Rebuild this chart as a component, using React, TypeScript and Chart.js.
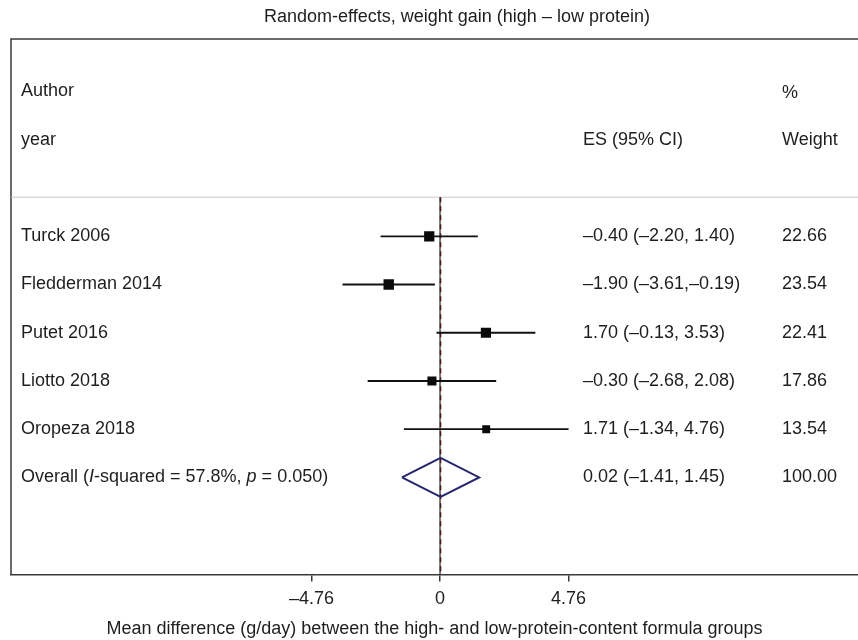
import React, { useEffect, useRef } from 'react';
import { Chart, registerables } from 'chart.js';

Chart.register(...registerables);

// ---- data ----
const studies = ['Turck 2006', 'Fledderman 2014', 'Putet 2016', 'Liotto 2018', 'Oropeza 2018'];
const effects = [-0.40, -1.90, 1.70, -0.30, 1.71];
const lowerCI = [-2.20, -3.61, -0.13, -2.68, -1.34];
const upperCI = [1.40, -0.19, 3.53, 2.08, 4.76];
const weights = [22.66, 23.54, 22.41, 17.86, 13.54];
const overallES = 0.02;
const overallLo = -1.41;
const overallHi = 1.45;
const overallWeight = 100.0;
const iSquared = 57.8;
const pValue = 0.050;
const tickValues = [-4.76, 0, 4.76];
const tickLabels = ['\u20134.76', '0', '4.76'];
const titleText = 'Random-effects, weight gain (high \u2013 low protein)';
const axisTitle = 'Mean difference (g/day) between the high- and low-protein-content formula groups';

// ---- layout constants ----
const FONT = '"Liberation Sans", Arial, Helvetica, sans-serif';
const FS = 18;
const Y_MIN = -3.09;
const Y_MAX = 8.01;
const SEP_ROW = 0.19;
const X_MIN = -15.89;
const X_MAX = 15.48;
const TEXT_COLOR = '#1e1e1e';

const fmt = (v: number) => (v < 0 ? '\u2013' : '') + Math.abs(v).toFixed(2);
const ciText = (es: number, lo: number, hi: number) =>
  `${fmt(es)} (${fmt(lo)},${hi < 0 ? '' : ' '}${fmt(hi)})`;

const textPlugin = {
  id: 'forestText',
  beforeDatasetsDraw(chart: any) {
    const { ctx, chartArea, scales } = chart;
    const ys = scales.y;
    const W = chart.width;
    ctx.save();
    // frame
    ctx.strokeStyle = '#3a3a3a';
    ctx.lineWidth = 1.5;
    ctx.beginPath();
    ctx.moveTo(chartArea.left, chartArea.bottom);
    ctx.lineTo(chartArea.left, chartArea.top);
    ctx.lineTo(W, chartArea.top);
    ctx.stroke();
    // separator
    const sy = ys.getPixelForValue(SEP_ROW);
    ctx.strokeStyle = '#c8c8c8';
    ctx.lineWidth = 1;
    ctx.beginPath();
    ctx.moveTo(chartArea.left, sy);
    ctx.lineTo(W, sy);
    ctx.stroke();
    ctx.restore();
  },
  afterDraw(chart: any) {
    const { ctx, chartArea, scales } = chart;
    const ys = scales.y;
    const authorX = chartArea.left + 10;
    const esX = 583;
    const wX = 782;
    ctx.save();
    ctx.fillStyle = TEXT_COLOR;
    ctx.textBaseline = 'middle';
    ctx.textAlign = 'left';
    ctx.font = `${FS}px ${FONT}`;
    // title
    ctx.textAlign = 'center';
    ctx.fillText(titleText, 457, 17);
    ctx.textAlign = 'left';
    // headers
    const h1 = ys.getPixelForValue(-2.02);
    const h2 = ys.getPixelForValue(-0.99);
    ctx.fillText('Author', authorX, h1);
    ctx.fillText('year', authorX, h2);
    ctx.fillText('ES (95% CI)', esX, h2);
    ctx.fillText('%', wX, h1 + 2);
    ctx.fillText('Weight', wX, h2);
    // rows
    studies.forEach((s, i) => {
      const y = ys.getPixelForValue(i + 1);
      ctx.fillText(s, authorX, y);
      ctx.fillText(ciText(effects[i], lowerCI[i], upperCI[i]), esX, y);
      ctx.fillText(weights[i].toFixed(2), wX, y);
    });
    // overall row
    const oy = ys.getPixelForValue(studies.length + 1);
    const segs: [string, boolean][] = [
      ['Overall (', false],
      ['I', true],
      [`-squared = ${iSquared.toFixed(1)}%, `, false],
      ['p', true],
      [` = ${pValue.toFixed(3)})`, false],
    ];
    let x = authorX;
    segs.forEach(([t, it]) => {
      ctx.font = `${it ? 'italic ' : ''}${FS}px ${FONT}`;
      ctx.fillText(t, x, oy);
      x += ctx.measureText(t).width;
    });
    ctx.font = `${FS}px ${FONT}`;
    ctx.fillText(ciText(overallES, overallLo, overallHi), esX, oy);
    ctx.fillText(overallWeight.toFixed(2), wX, oy);
    ctx.restore();
  },
};

export default function App() {
  const ref = useRef<HTMLCanvasElement>(null);
  useEffect(() => {
    document.body.style.margin = '0';
    const canvas = ref.current!;
    const overallRow = studies.length + 1;
    const diamondHalf = 0.405;
    const datasets: any[] = [
      {
        label: 'overall line',
        data: [{ x: overallES, y: SEP_ROW }, { x: overallES, y: Y_MAX }],
        showLine: true,
        borderColor: '#8a2f2f',
        borderWidth: 1.6,
        borderDash: [5, 4],
        pointRadius: 0,
        order: 6,
      },
      {
        label: 'null',
        data: [{ x: 0, y: SEP_ROW }, { x: 0, y: Y_MAX }],
        showLine: true,
        borderColor: '#111111',
        borderWidth: 1.1,
        pointRadius: 0,
        order: 5,
      },
      ...studies.map((s, i) => ({
        label: s + ' CI',
        data: [{ x: lowerCI[i], y: i + 1 }, { x: upperCI[i], y: i + 1 }],
        showLine: true,
        borderColor: '#111111',
        borderWidth: 1.8,
        pointRadius: 0,
        order: 3,
      })),
      {
        label: 'estimates',
        data: effects.map((e, i) => ({ x: e, y: i + 1 })),
        pointStyle: 'rect',
        pointRadius: weights.map((w) => (2.15 * Math.sqrt(w)) / (2 * Math.SQRT1_2)),
        backgroundColor: '#0a0a0a',
        borderColor: '#0a0a0a',
        borderWidth: 0,
        order: 1,
      },
      {
        label: 'overall',
        data: [
          { x: overallLo, y: overallRow },
          { x: overallES, y: overallRow - diamondHalf },
          { x: overallHi, y: overallRow },
          { x: overallES, y: overallRow + diamondHalf },
          { x: overallLo, y: overallRow },
        ],
        showLine: true,
        borderColor: '#26266e',
        borderWidth: 2,
        pointRadius: 0,
        fill: false,
        order: 2,
      },
    ];
    const chart = new Chart(canvas, {
      type: 'scatter',
      data: { datasets },
      options: {
        animation: false,
        responsive: false,
        devicePixelRatio: 1,
        layout: { autoPadding: false, padding: { left: 11, top: 39, right: 0, bottom: 0 } },
        plugins: { legend: { display: false }, tooltip: { enabled: false }, title: { display: false } },
        scales: {
          x: {
            type: 'linear',
            min: X_MIN,
            max: X_MAX,
            afterBuildTicks: (scale: any) => {
              scale.ticks = tickValues.map((v) => ({ value: v }));
            },
            afterFit: (scale: any) => {
              scale.paddingLeft = 0;
              scale.paddingRight = 0;
            },
            grid: {
              display: true,
              drawOnChartArea: false,
              drawTicks: true,
              tickLength: 7,
              color: '#3a3a3a',
              lineWidth: 1.5,
            },
            border: { display: true, color: '#3a3a3a', width: 1.5 },
            ticks: {
              autoSkip: false,
              maxRotation: 0,
              padding: 7,
              color: TEXT_COLOR,
              font: { family: FONT, size: FS },
              callback: (v: any) => {
                const idx = tickValues.indexOf(Number(v));
                return idx >= 0 ? tickLabels[idx] : '';
              },
            },
            title: {
              display: true,
              text: axisTitle,
              color: TEXT_COLOR,
              font: { family: FONT, size: FS },
              padding: { top: 1.4, bottom: 0 },
            },
          },
          y: {
            type: 'linear',
            display: false,
            min: Y_MIN,
            max: Y_MAX,
            reverse: true,
          },
        },
      },
      plugins: [textPlugin],
    });
    return () => chart.destroy();
  }, []);
  return (
    <canvas ref={ref} width={858} height={640} style={{ display: 'block', width: 858, height: 640 }} />
  );
}
